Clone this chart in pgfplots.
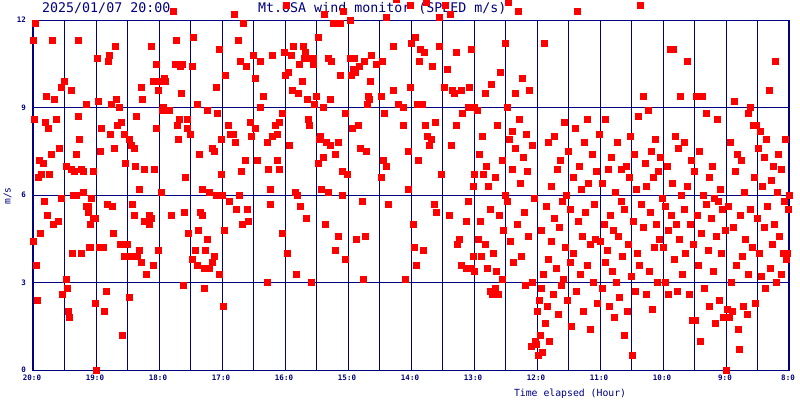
\documentclass[border=0pt]{standalone}
\usepackage{pgfplots}
\pgfplotsset{compat=1.18}
\usepackage{fontspec}
\setmainfont{DejaVu Sans Mono}
\definecolor{navy}{RGB}{0,0,128}
\definecolor{pr}{RGB}{255,0,0}
\begin{document}
\begin{tikzpicture}
\path[use as bounding box] (-33pt,-30pt) rectangle (767pt,370pt);
\begin{axis}[
 at={(0pt,0pt)}, anchor=south west,
 scale only axis, width=756pt, height=350pt,
 xmin=0, xmax=12, ymin=0, ymax=12,
 clip=false,
 axis line style={navy, line width=1pt},
 xtick={0,...,12},
 xticklabels={20:0,19:0,18:0,17:0,16:0,15:0,14:0,13:0,12:0,11:0,10:0,9:0,8:0},
 minor x tick num=1,
 ytick={0,3,6,9,12},
 major tick length=0pt, minor tick length=0pt,
 xmajorgrids, xminorgrids, ymajorgrids,
 major grid style={navy, line width=1pt},
 minor grid style={navy, line width=1pt},
 tick label style={font=\bfseries\fontsize{7.5}{8}\selectfont, text=navy, inner sep=0pt},
 xticklabel style={anchor=north, yshift=-5pt, xshift=-1pt},
 yticklabel style={anchor=east, xshift=-7pt},
 /pgf/number format/assume math mode=true,
 extra x ticks={0,12},
 extra x tick labels={{},{}},
 extra x tick style={major grid style={navy, line width=2pt}},
]
\node[anchor=base west, inner sep=0pt, text=navy, font=\fontsize{13.3}{14}\selectfont] at (rel axis cs:0.0119,1.0209) {2025/01/07 20:00};
\node[anchor=base west, inner sep=0pt, text=navy, font=\fontsize{13.3}{14}\selectfont] at (rel axis cs:0.2976,1.0209) {Mt.OSA wind monitor (SPEED m/s)};
\node[anchor=base west, inner sep=0pt, text=navy, font=\fontsize{9.8}{10}\selectfont] at (rel axis cs:0.636,-0.0743) {Time elapsed (Hour)};
\node[rotate=90, inner sep=0pt, text=navy, font=\fontsize{9.6}{10}\selectfont] at (rel axis cs:-0.0337,0.497) {m/s};
\addplot[only marks, mark=square*, mark size=3pt, color=pr, mark options={draw=none, fill=pr}] coordinates {
(0.04,11.9)(0.01,11.3)(0.31,11.3)(0.71,11.3)(0.50,9.9)(0.44,9.7)(0.60,9.6)(0.21,9.4)(0.34,9.3)(0.85,9.1)(0.02,8.6)(0.20,8.5)(0.37,8.6)(0.24,8.3)(0.72,8.7)(0.74,7.9)(0.42,7.6)(0.29,7.4)(0.69,7.4)(0.10,7.2)(0.16,7.1)(0.52,7.0)(0.61,6.9)(0.77,6.9)(0.66,6.8)(0.79,6.8)(0.96,6.8)(0.13,6.7)(0.26,6.7)(0.09,6.6)(0.80,6.1)(0.64,6.0)(0.68,6.0)(0.45,5.9)(0.93,5.9)(0.18,5.8)(0.84,5.6)(0.88,5.6)(0.87,5.4)(0.23,5.3)(0.95,5.2)(0.98,5.2)(0.40,5.1)(0.32,5.0)(0.91,5.0)(0.12,4.7)(0.00,4.4)(0.90,4.2)(0.63,4.0)(0.76,4.0)(0.05,3.6)(0.53,3.1)(0.55,2.8)(0.47,2.6)(0.07,2.4)(0.99,2.3)(0.56,2.0)(0.57,1.8)(1.00,0.0)
(1.31,11.1)(1.87,11.1)(1.02,10.7)(1.21,10.8)(1.20,10.6)(1.95,10.5)(1.71,9.7)(1.90,9.9)(1.98,9.6)(1.03,9.2)(1.32,9.3)(1.74,9.3)(1.24,9.1)(1.37,9.0)(1.64,8.7)(1.09,8.3)(1.34,8.4)(1.40,8.5)(1.96,8.3)(1.23,8.1)(1.44,8.1)(1.53,7.9)(1.56,7.7)(1.60,7.6)(1.29,7.6)(1.07,7.5)(1.47,7.1)(1.63,7.0)(1.76,6.9)(1.93,6.9)(1.69,6.2)(1.18,5.7)(1.26,5.6)(1.58,5.7)(1.61,5.3)(1.84,5.3)(1.88,5.2)(1.77,5.1)(1.85,5.0)(1.28,4.7)(1.39,4.3)(1.50,4.3)(1.05,4.2)(1.12,4.2)(1.68,4.1)(1.99,4.1)(1.45,3.9)(1.55,3.9)(1.66,3.9)(1.72,3.7)(1.91,3.6)(1.79,3.3)(1.80,3.3)(1.16,2.7)(1.52,2.5)(1.13,2.0)(1.42,1.2)
(2.23,12.3)(2.28,11.3)(2.55,11.4)(2.95,11.0)(2.26,10.5)(2.37,10.5)(2.34,10.4)(2.52,10.4)(2.09,10.0)(2.01,9.9)(2.10,9.9)(2.91,9.7)(2.36,9.5)(2.60,9.1)(2.05,8.9)(2.07,9.0)(2.16,8.9)(2.76,8.9)(2.93,8.8)(2.32,8.6)(2.45,8.6)(2.29,8.4)(2.44,8.3)(2.50,8.1)(2.31,7.9)(2.99,7.9)(2.85,7.6)(2.88,7.5)(2.64,7.4)(2.98,6.7)(2.42,6.6)(2.68,6.2)(2.04,6.1)(2.79,6.1)(2.90,6.0)(2.20,5.3)(2.40,5.4)(2.66,5.4)(2.69,5.3)(2.63,4.8)(2.47,4.7)(2.77,4.5)(2.58,4.1)(2.74,4.1)(2.87,3.9)(2.53,3.8)(2.84,3.7)(2.61,3.6)(2.72,3.5)(2.80,3.5)(2.96,3.3)(2.39,2.9)(2.71,2.8)
(3.20,12.2)(3.34,11.9)(3.26,11.3)(3.50,10.8)(3.80,10.8)(3.98,10.9)(3.29,10.6)(3.61,10.6)(3.39,10.4)(3.05,10.1)(3.53,10.0)(3.66,9.4)(3.60,9.0)(3.96,8.8)(3.10,8.4)(3.45,8.5)(3.52,8.3)(3.85,8.4)(3.90,8.5)(3.13,8.1)(3.17,8.1)(3.88,8.1)(3.47,8.0)(3.79,8.0)(3.21,7.8)(3.71,7.8)(3.37,7.2)(3.56,7.2)(3.87,7.2)(3.74,6.9)(3.91,6.9)(3.31,6.8)(3.77,6.2)(3.01,6.0)(3.28,6.0)(3.12,5.8)(3.76,5.7)(3.23,5.5)(3.40,5.5)(3.42,5.1)(3.32,5.0)(3.04,4.8)(3.95,4.7)(3.72,3.0)(3.02,2.2)
(4.02,12.5)(4.63,12.2)(4.93,12.3)(4.76,11.9)(4.87,11.9)(4.53,11.4)(4.13,11.1)(4.29,11.1)(4.10,10.8)(4.32,10.9)(4.31,10.7)(4.40,10.7)(4.45,10.7)(4.69,10.7)(4.74,10.6)(4.23,10.5)(4.45,10.5)(4.01,10.1)(4.05,10.2)(4.88,10.1)(4.28,9.9)(4.12,9.6)(4.21,9.5)(4.50,9.4)(4.36,9.3)(4.71,9.3)(4.47,9.1)(4.61,9.0)(4.95,8.8)(4.37,8.6)(4.39,8.4)(4.56,8.0)(4.55,7.9)(4.66,7.8)(4.72,7.7)(4.85,7.8)(4.07,7.7)(4.80,7.4)(4.60,7.3)(4.52,7.1)(4.90,6.8)(4.99,6.7)(4.58,6.2)(4.16,6.1)(4.20,6.0)(4.68,6.1)(4.91,6.0)(4.24,5.6)(4.34,5.2)(4.64,5.0)(4.84,4.6)(4.79,4.1)(4.04,4.0)(4.96,3.8)(4.18,3.3)(4.42,3.0)
(5.76,12.7)(5.99,12.5)(5.61,12.1)(5.04,12.0)(5.71,11.1)(5.37,10.8)(5.04,10.7)(5.10,10.7)(5.26,10.6)(5.55,10.6)(5.45,10.5)(5.18,10.4)(5.09,10.3)(5.12,10.2)(5.05,10.1)(5.36,9.9)(5.98,9.7)(5.72,9.6)(5.32,9.4)(5.52,9.4)(5.34,9.3)(5.31,9.1)(5.80,9.1)(5.87,9.0)(5.58,8.8)(5.16,8.4)(5.07,8.3)(5.88,8.4)(5.20,7.6)(5.29,7.5)(5.96,7.5)(5.56,7.2)(5.60,7.0)(5.53,6.6)(5.95,6.2)(5.23,5.8)(5.64,5.7)(5.28,4.6)(5.13,4.5)(5.24,3.1)(5.90,3.1)
(6.24,12.6)(6.55,12.5)(6.45,12.1)(6.63,12.2)(6.07,11.4)(6.01,11.2)(6.44,11.1)(6.15,11.0)(6.21,10.9)(6.71,10.9)(6.95,11.0)(6.13,10.6)(6.34,10.4)(6.58,10.3)(6.53,9.7)(6.66,9.6)(6.69,9.5)(6.80,9.6)(6.93,9.7)(6.10,9.1)(6.18,9.1)(6.90,9.0)(7.00,9.0)(6.82,8.8)(6.39,8.5)(6.23,8.4)(6.72,8.4)(6.26,8.0)(6.32,7.9)(6.29,7.7)(6.64,7.7)(6.12,7.2)(6.48,6.7)(7.01,6.7)(6.98,6.3)(6.91,5.8)(6.37,5.7)(6.40,5.4)(6.61,5.3)(6.87,5.1)(6.04,5.0)(6.76,4.5)(6.74,4.3)(6.05,4.2)(6.20,4.1)(6.99,3.9)(6.09,3.6)(6.79,3.6)(6.88,3.5)(6.96,3.5)(7.01,3.4)
(7.05,8.9)(7.07,4.5)(7.08,7.4)(7.10,5.1)(7.12,3.9)(7.13,8.0)(7.15,6.7)(7.17,4.3)(7.18,9.5)(7.20,7.0)(7.21,3.5)(7.23,6.3)(7.25,2.7)(7.26,5.5)(7.28,9.8)(7.29,2.6)(7.31,4.0)(7.33,2.8)(7.34,6.6)(7.36,3.4)(7.37,8.4)(7.39,2.6)(7.40,5.3)(7.42,10.2)(7.44,3.1)(7.45,7.2)(7.47,4.8)(7.49,11.2)(7.50,6.0)(7.52,9.0)(7.53,5.8)(7.55,12.6)(7.56,7.9)(7.58,4.4)(7.60,8.2)(7.61,6.9)(7.63,3.7)(7.65,9.5)(7.66,7.6)(7.68,5.0)(7.70,12.3)(7.71,8.6)(7.73,6.4)(7.75,3.9)(7.76,10.0)(7.78,7.3)(7.80,5.4)(7.81,2.9)(7.83,8.1)(7.85,6.8)(7.86,4.6)(7.88,9.6)(7.90,0.8)(7.92,3.0)(7.93,7.7)(7.95,5.9)(7.97,1.0)(7.98,0.9)
(8.01,2.0)(8.02,0.5)(8.04,2.4)(8.05,1.2)(8.06,4.8)(8.07,2.8)(8.09,0.6)(8.10,3.3)(8.11,11.2)(8.13,1.6)(8.14,5.6)(8.16,2.2)(8.17,7.8)(8.18,3.8)(8.20,1.0)(8.22,6.3)(8.23,4.4)(8.25,2.6)(8.27,8.0)(8.28,5.2)(8.30,3.5)(8.32,6.9)(8.33,1.9)(8.35,4.9)(8.37,7.2)(8.38,2.9)(8.40,5.8)(8.42,3.1)(8.43,8.5)(8.45,4.2)(8.47,6.0)(8.48,2.4)(8.50,7.5)(8.52,3.7)(8.53,5.5)(8.55,1.5)(8.57,6.6)(8.58,4.0)(8.60,8.3)(8.62,2.7)(8.64,12.3)(8.65,5.1)(8.67,7.0)(8.69,3.3)(8.70,6.2)(8.72,4.6)(8.74,2.0)(8.75,7.8)(8.77,5.4)(8.79,3.6)(8.80,8.6)(8.82,6.4)(8.84,4.3)(8.85,1.4)(8.87,7.4)(8.89,3.0)(8.90,5.7)(8.92,4.5)(8.94,6.8)(8.96,2.3)(8.98,8.1)
(9.01,4.4)(9.03,6.4)(9.04,2.8)(9.06,5.0)(9.08,3.7)(9.09,8.6)(9.11,4.1)(9.13,6.9)(9.14,2.2)(9.16,5.3)(9.18,7.3)(9.19,3.4)(9.21,4.8)(9.23,1.8)(9.24,6.1)(9.26,3.0)(9.28,7.8)(9.29,4.6)(9.31,2.5)(9.33,5.8)(9.34,6.9)(9.36,3.9)(9.38,1.2)(9.39,5.5)(9.41,7.0)(9.43,2.0)(9.44,4.3)(9.46,6.6)(9.48,8.0)(9.49,3.2)(9.51,0.5)(9.53,5.1)(9.54,7.4)(9.56,2.7)(9.58,6.2)(9.59,4.0)(9.61,8.7)(9.63,3.6)(9.64,12.5)(9.66,5.7)(9.68,9.4)(9.69,4.9)(9.71,7.1)(9.73,2.6)(9.74,6.3)(9.76,8.9)(9.78,3.4)(9.79,5.4)(9.81,7.5)(9.83,2.1)(9.84,6.6)(9.86,4.2)(9.88,7.9)(9.89,5.0)(9.91,3.0)(9.93,6.8)(9.94,4.5)(9.96,7.3)(9.98,5.9)
(10.01,4.2)(10.03,5.6)(10.04,3.0)(10.06,7.0)(10.08,4.8)(10.09,2.6)(10.11,11.0)(10.13,5.3)(10.14,6.4)(10.16,11.0)(10.18,3.8)(10.19,8.0)(10.21,5.0)(10.23,2.7)(10.24,7.6)(10.26,4.5)(10.28,9.4)(10.29,6.0)(10.31,3.3)(10.33,5.5)(10.34,7.8)(10.36,4.0)(10.38,10.6)(10.39,6.3)(10.41,2.6)(10.43,5.0)(10.44,7.2)(10.46,1.7)(10.48,4.3)(10.49,6.8)(10.51,1.7)(10.53,9.4)(10.54,5.3)(10.56,3.6)(10.58,7.5)(10.59,1.0)(10.61,4.7)(10.63,9.4)(10.64,6.0)(10.66,2.8)(10.68,5.7)(10.69,8.8)(10.71,4.1)(10.73,6.6)(10.74,2.2)(10.76,5.2)(10.78,7.0)(10.79,3.4)(10.81,5.9)(10.83,1.6)(10.84,4.6)(10.86,8.6)(10.88,5.8)(10.89,2.4)(10.91,6.2)(10.93,4.0)(10.94,5.5)(10.96,1.8)(10.98,4.8)(11.00,0.0)
(11.02,2.1)(11.03,5.6)(11.05,1.8)(11.06,7.8)(11.08,3.0)(11.10,2.0)(11.11,4.9)(11.13,9.2)(11.14,6.8)(11.16,3.6)(11.18,7.4)(11.19,1.4)(11.21,0.7)(11.23,5.3)(11.24,7.2)(11.26,3.9)(11.28,2.2)(11.29,6.1)(11.31,4.5)(11.33,1.9)(11.35,8.8)(11.36,3.3)(11.38,9.0)(11.39,5.5)(11.41,4.2)(11.43,8.4)(11.44,6.6)(11.46,2.3)(11.48,8.4)(11.49,5.2)(11.51,7.6)(11.53,4.0)(11.55,8.2)(11.56,3.2)(11.58,6.3)(11.60,7.3)(11.61,4.9)(11.63,2.8)(11.64,7.9)(11.66,5.6)(11.68,9.6)(11.70,3.5)(11.71,6.5)(11.73,4.3)(11.75,7.0)(11.76,5.0)(11.78,10.6)(11.80,3.0)(11.82,6.1)(11.83,7.4)(11.85,4.6)(11.87,3.3)(11.88,6.9)(11.90,4.0)(11.92,5.8)(11.94,7.9)(11.95,3.8)(11.97,4.0)(11.99,5.5)(12.00,6.0)
};
\end{axis}
\end{tikzpicture}
\end{document}
